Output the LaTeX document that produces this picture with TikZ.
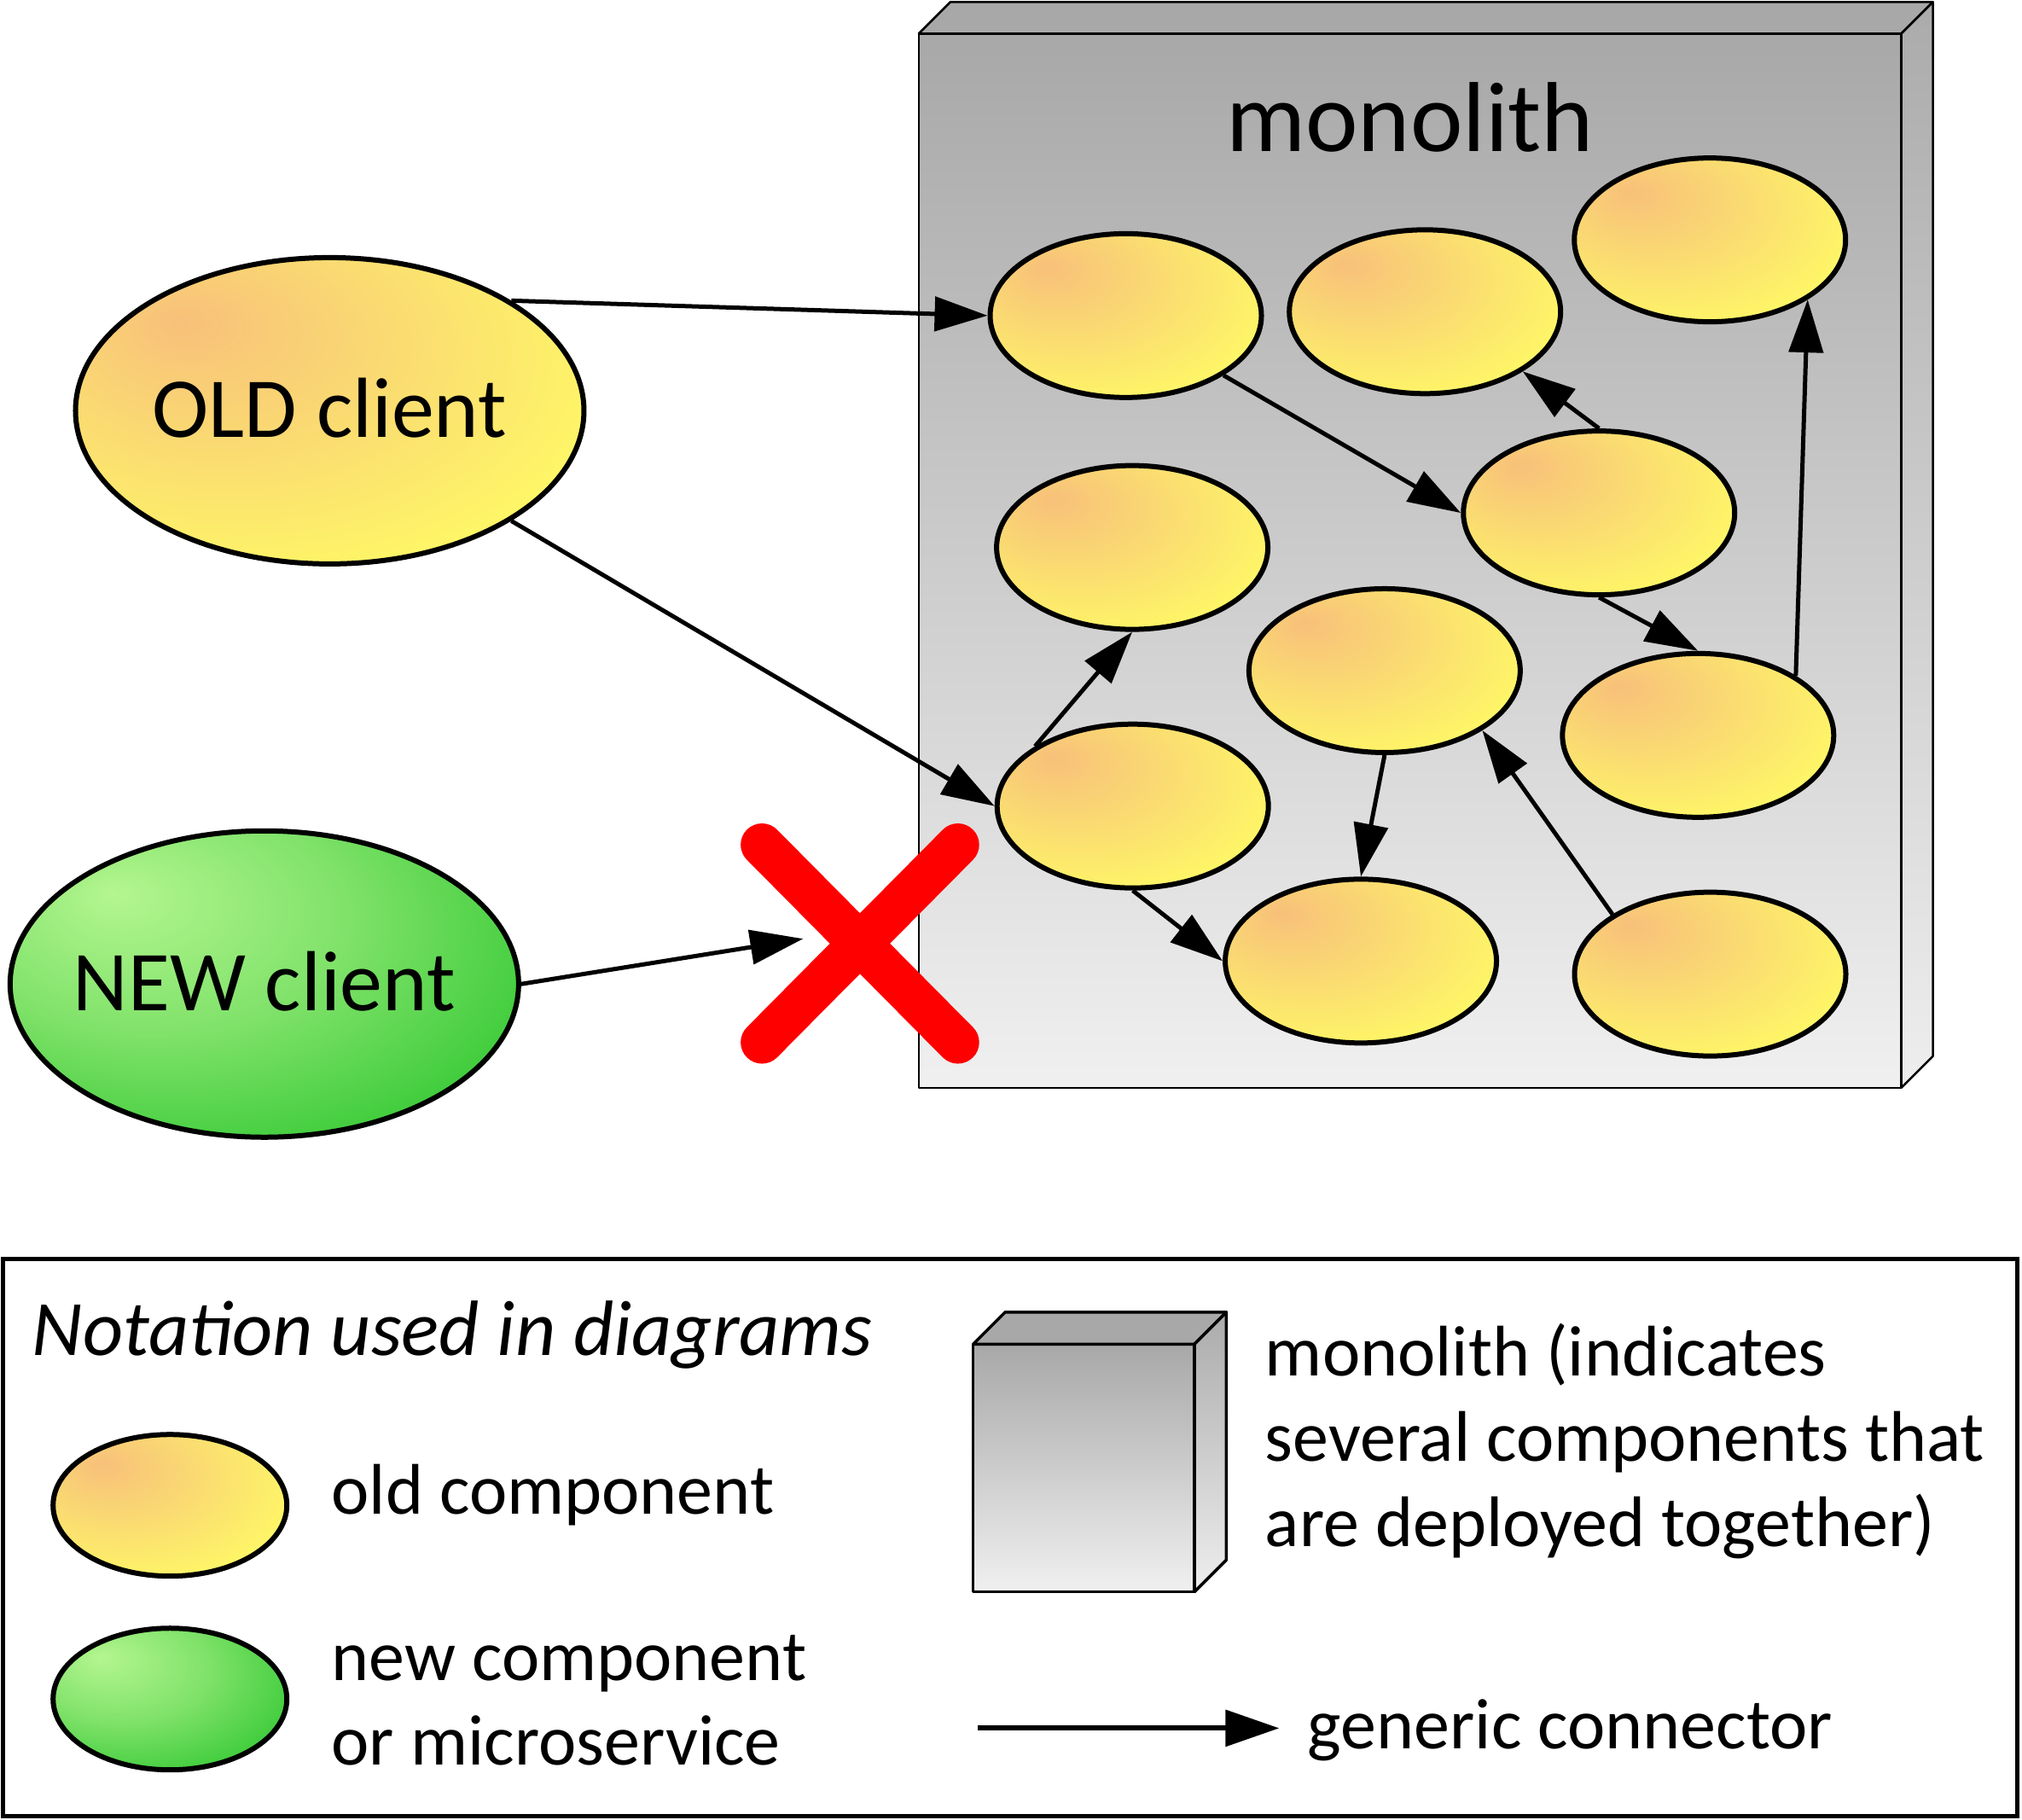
\documentclass[tikz,border=0pt]{standalone}
\usepackage{fontspec}
\setmainfont{Carlito}
\usetikzlibrary{arrows.meta,shapes.geometric}
\definecolor{oldA}{HTML}{F8C07A}
\definecolor{oldB}{HTML}{FADA72}
\definecolor{oldC}{HTML}{FFF966}
\definecolor{newA}{HTML}{B4F690}
\definecolor{newB}{HTML}{80E26A}
\definecolor{newC}{HTML}{33C833}
\definecolor{monoA}{HTML}{A8A8A8}
\definecolor{monoB}{HTML}{F0F0F0}
\definecolor{monoC}{HTML}{ABABAB}
\definecolor{monoD}{HTML}{EEEEEE}
\pgfdeclareradialshading{oldshade}{\pgfpoint{-15bp}{15bp}}{color(0bp)=(oldA); color(17bp)=(oldB); color(37bp)=(oldC); color(70bp)=(oldC)}
\pgfdeclareradialshading{newshade}{\pgfpoint{-15bp}{15bp}}{color(0bp)=(newA); color(19bp)=(newB); color(39bp)=(newC); color(70bp)=(newC)}
\newcommand\monocube[6]{%
 \shade[top color=monoA, bottom color=monoB] (#1,#2) rectangle (#3,#4);
 \shade[top color=monoC, bottom color=monoD] (#3,#2) -- ({#3+#5},{#2-#5}) -- ({#3+#5},{#4-#5}) -- (#3,#4) -- cycle;
 \filldraw[fill=monoA, line width=#6, line join=round] (#1,#2) -- ({#1+#5},{#2-#5}) -- ({#3+#5},{#2-#5}) -- (#3,#2) -- cycle;
 \draw[line width=#6, line join=round] (#3,#2) -- ({#3+#5},{#2-#5}) -- ({#3+#5},{#4-#5}) -- (#3,#4);
 \draw[line width=#6, line join=round] (#1,#2) rectangle (#3,#4);
}
\begin{document}
\begin{tikzpicture}[x=1.5115pt,y=-1.5115pt,
  comp/.style={ellipse, draw=black, line width=6pt, shade, shading=oldshade, minimum width=318pt, minimum height=192pt, inner sep=0pt},
  client/.style={ellipse, draw=black, line width=6pt, minimum width=596pt, minimum height=359pt, inner ysep=0pt, inner xsep=-40pt, text height=62pt, text depth=0pt, font=\fontsize{100pt}{115pt}\selectfont},
  legell/.style={ellipse, draw=black, line width=6pt, minimum width=274pt, minimum height=166pt, inner sep=0pt},
  conn/.style={line width=5pt, -{Triangle[length=62pt,width=40pt]}},
  legtext/.style={anchor=base west, inner sep=0pt, font=\fontsize{84pt}{100pt}\selectfont},
  xmark/.style={red, line width=50pt, line cap=round}
]
\useasboundingbox (0,0) rectangle (1568,1410.6);

% monolith
\monocube{712.5}{26}{1474.4}{843.4}{24.5}{2.5pt}
\node[anchor=base, inner sep=0pt, font=\fontsize{116.5pt}{130pt}\selectfont] (title) at (1093.5,117.6) {monolith};

% components
\node[comp] (A) at (873,244.7) {};
\node[comp] (B) at (1105,241.7) {};
\node[comp] (C) at (1326,186) {};
\node[comp] (D) at (1240,397.7) {};
\node[comp] (E) at (878,424.5) {};
\node[comp] (F) at (1073.7,520) {};
\node[comp] (G) at (1316.8,570.2) {};
\node[comp] (H) at (878.4,625) {};
\node[comp] (I) at (1055.3,745.2) {};
\node[comp] (J) at (1326.2,755.3) {};

% clients
\node[client, shade, shading=oldshade] (OLD) at (255.7,318.5) {OLD client};
\node[client, shade, shading=newshade] (NEW) at (205,763) {NEW client};

% connectors
\draw[conn] (OLD.north east) -- (A.west);
\draw[conn] (OLD.south east) -- (H.west);
\draw[conn] (A.south east) -- (D.west);
\draw[conn] (D.north) -- (B.south east);
\draw[conn] (D.south) -- (G.north);
\draw[conn] (G.north east) -- (C.south east);
\draw[conn] (H.north west) -- (E.south);
\draw[conn] (H.south) -- (I.west);
\draw[conn] (F.south) -- (I.north);
\draw[conn] (J.north west) -- (F.south east);
\coordinate (xtip) at (622.8,727.9);
\draw[conn] (NEW.east) -- (xtip);

% red cross
\coordinate (x1) at (590.9,655);
\coordinate (x2) at (742.8,808.2);
\coordinate (x3) at (742.8,655);
\coordinate (x4) at (590.9,808.2);
\draw[xmark] (x1) -- (x2);
\draw[xmark] (x3) -- (x4);

% legend frame
\draw[line width=5pt] (2.5,976.5) rectangle (1564.5,1408.5);
\node[legtext, font=\fontsize{92pt}{110pt}\selectfont\itshape] (nt) at (25,1051) {Notation used in diagrams};
\node[legell, shade, shading=oldshade] (Lold) at (131.8,1167.2) {};
\node[legell, shade, shading=newshade] (Lnew) at (131.8,1317.4) {};
\node[legtext] (t1) at (257,1174) {old component};
\node[legtext] (t2) at (257,1303) {new component};
\node[legtext] (t3) at (257,1368.6) {or microservice};
\monocube{754.7}{1042.2}{926.2}{1234.3}{24.8}{3.5pt}
\node[legtext] (t4) at (981,1066.6) {monolith (indicates};
\node[legtext] (t5) at (981,1132.7) {several components that};
\node[legtext] (t6) at (981,1199) {are deployed together)};
\coordinate (la) at (758,1340);
\coordinate (lb) at (992,1340);
\draw[line width=6pt, -{Triangle[length=63pt,width=42pt]}] (la) -- (lb);
\node[legtext] (t7) at (1014,1355.8) {generic connector};
\end{tikzpicture}
\end{document}
